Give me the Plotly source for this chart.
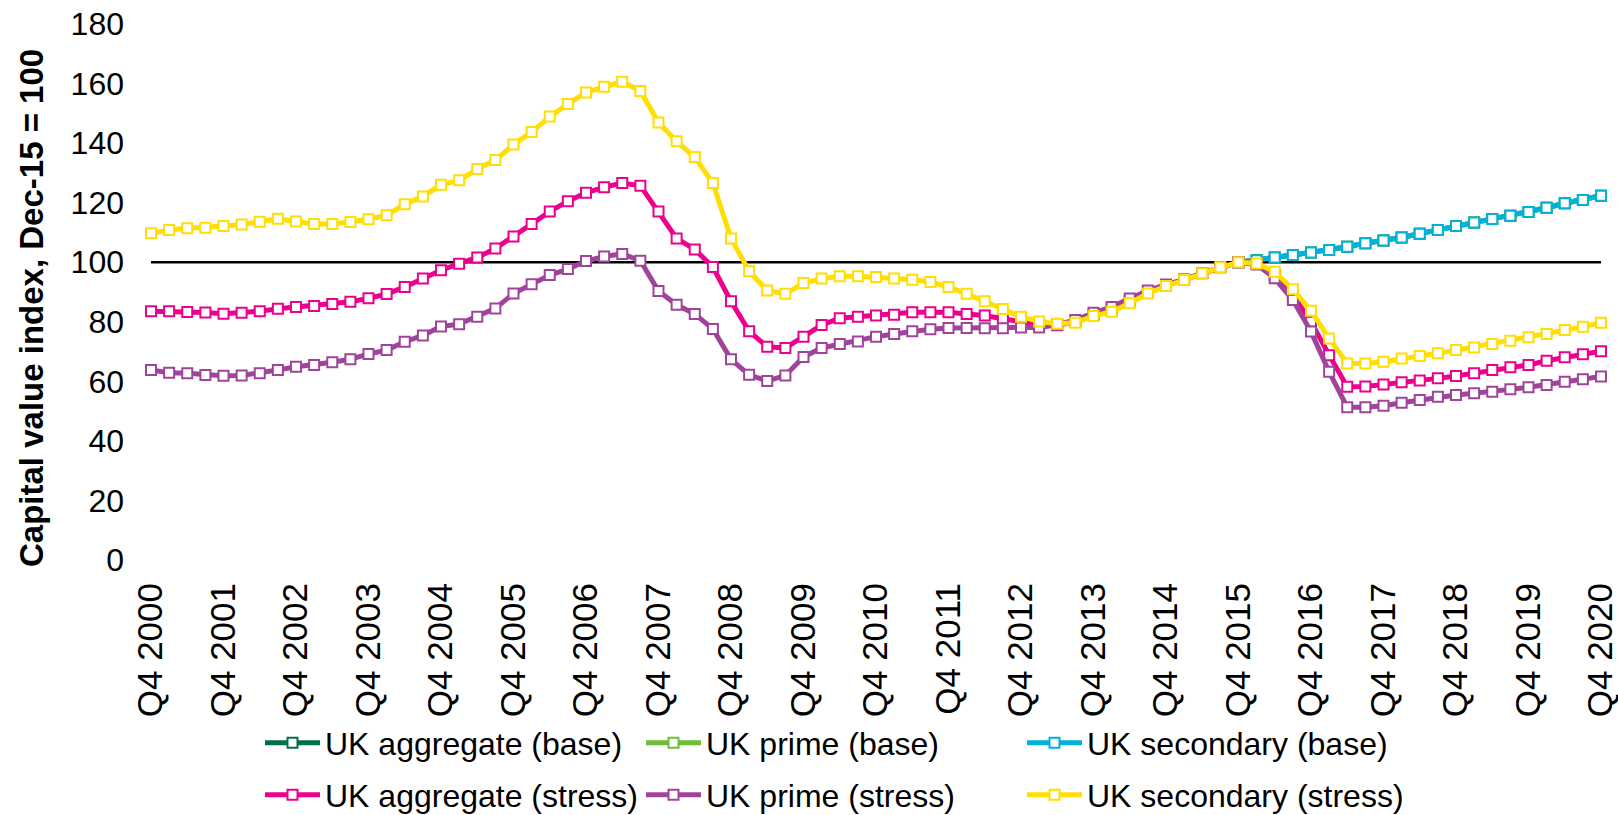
import plotly.graph_objects as go

# ---------------- data ----------------
quarters = []
for year in range(2000, 2021):
    for q in (1, 2, 3, 4):
        if year == 2000 and q < 4:
            continue
        quarters.append(f"Q{q} {year}")

tick_labels = [f"Q4 {y}" for y in range(2000, 2021)]

reference_level = 100

aggregate_stress = [
    83.5, 83.5, 83.3, 83.1, 82.7, 83.0, 83.5, 84.4, 85.0, 85.3,
    86.0, 86.7, 87.9, 89.3, 91.7, 94.5, 97.3, 99.5, 101.6, 104.6,
    108.6, 112.8, 117.0, 120.5, 123.3, 125.2, 126.6, 125.7, 117.0, 108.0,
    104.3, 98.4, 86.9, 76.8, 71.6, 71.2, 75.0, 78.9, 81.2, 81.7,
    82.1, 82.4, 83.2, 83.2, 83.2, 82.6, 82.1, 81.0, 79.8, 79.0,
    78.8, 80.0, 82.3, 84.0, 87.0, 90.0, 92.2, 94.1, 96.3, 98.3,
    100.0, 99.4, 95.6, 89.0, 80.0, 68.8, 58.2, 58.3, 58.9, 59.7,
    60.3, 61.0, 61.8, 62.7, 63.8, 64.7, 65.5, 66.9, 68.1, 69.1,
    70.1,
]

prime_stress = [
    63.8, 62.9, 62.7, 62.1, 61.9, 62.0, 62.7, 63.8, 64.9, 65.5,
    66.4, 67.4, 69.2, 70.5, 73.3, 75.4, 78.4, 79.2, 81.7, 84.5,
    89.5, 92.6, 95.7, 97.7, 100.4, 101.9, 102.8, 100.5, 90.3, 85.7,
    82.6, 77.6, 67.4, 62.2, 60.1, 62.0, 68.2, 71.2, 72.5, 73.4,
    75.0, 75.9, 76.8, 77.5, 77.9, 77.9, 77.8, 77.8, 78.1, 78.1,
    79.0, 80.6, 83.0, 85.0, 87.8, 90.5, 92.5, 94.2, 96.4, 98.4,
    100.0, 99.2, 94.6, 87.3, 76.7, 63.2, 51.3, 51.3, 51.8, 52.8,
    53.7, 54.8, 55.4, 56.0, 56.5, 57.3, 58.0, 58.8, 59.9, 60.7,
    61.6,
]

secondary_stress = [
    109.7, 110.8, 111.4, 111.6, 112.2, 112.7, 113.6, 114.6, 113.7, 112.8,
    112.8, 113.5, 114.4, 115.8, 119.5, 122.1, 126.0, 127.5, 131.3, 134.3,
    139.5, 143.7, 148.9, 153.1, 157.0, 158.9, 160.6, 157.5, 146.9, 140.6,
    135.3, 126.6, 108.0, 97.0, 90.5, 89.4, 93.0, 94.5, 95.3, 95.3,
    95.0, 94.5, 94.1, 93.4, 91.7, 89.4, 86.9, 84.3, 81.7, 80.1,
    79.3, 79.7, 81.9, 83.4, 86.2, 89.5, 92.0, 94.0, 96.3, 98.3,
    100.0, 99.6, 96.8, 90.9, 83.7, 74.4, 66.0, 66.0, 66.6, 67.7,
    68.5, 69.4, 70.5, 71.4, 72.5, 73.6, 74.8, 75.9, 77.2, 78.3,
    79.7,
]

# base projections start at Q4 2015
base_quarters = quarters[60:]
aggregate_base = [100.0, 100.7, 101.6, 102.4, 103.3, 104.1, 105.2, 106.4, 107.3, 108.3,
                  109.6, 110.8, 112.2, 113.3, 114.5, 115.6, 116.9, 118.3, 119.8, 120.9, 122.3]
prime_base = [100.0, 100.7, 101.6, 102.4, 103.3, 104.1, 105.2, 106.4, 107.3, 108.3,
              109.6, 110.8, 112.2, 113.3, 114.5, 115.6, 116.9, 118.3, 119.8, 120.9, 122.3]
secondary_base = [100.0, 100.7, 101.6, 102.4, 103.3, 104.1, 105.2, 106.4, 107.3, 108.3,
                  109.6, 110.8, 112.2, 113.3, 114.5, 115.6, 116.9, 118.3, 119.8, 120.9, 122.3]

y_title = "Capital value index, Dec-15 = 100"

# ---------------- styling ----------------
FONT = "Liberation Sans, Arial, sans-serif"
C_AGG_BASE = "#00704A"
C_PRIME_BASE = "#6FBE3A"
C_SEC_BASE = "#00B2DA"
C_AGG_STRESS = "#EC008C"
C_PRIME_STRESS = "#A0449B"
C_SEC_STRESS = "#FFDE00"

fig = go.Figure()

# reference line at 100
fig.add_trace(go.Scatter(
    x=[quarters[0], quarters[-1]], y=[reference_level, reference_level],
    mode="lines", line=dict(color="black", width=2.5),
    showlegend=False, hoverinfo="skip",
))


def add_series(name, x, y, color, legend):
    fig.add_trace(go.Scatter(
        x=x, y=y, name=name, mode="lines+markers",
        line=dict(color=color, width=5),
        marker=dict(symbol="square", size=10, color="white",
                    line=dict(color=color, width=2)),
        cliponaxis=False, legend=legend,
    ))


add_series("UK aggregate (base)", base_quarters, aggregate_base, C_AGG_BASE, "legend")
add_series("UK prime (base)", base_quarters, prime_base, C_PRIME_BASE, "legend")
add_series("UK secondary (base)", base_quarters, secondary_base, C_SEC_BASE, "legend")
add_series("UK aggregate (stress)", quarters, aggregate_stress, C_AGG_STRESS, "legend2")
add_series("UK prime (stress)", quarters, prime_stress, C_PRIME_STRESS, "legend2")
add_series("UK secondary (stress)", quarters, secondary_stress, C_SEC_STRESS, "legend2")

PLOT_L, PLOT_R, PLOT_T, PLOT_B = 151, 1601, 24, 560
W, H = 1618, 815
ph = PLOT_B - PLOT_T
pw = PLOT_R - PLOT_L

leg_common = dict(
    orientation="h", xanchor="left", yanchor="middle",
    x=(260 - PLOT_L) / pw,
    font=dict(family=FONT, size=32, color="black"),
    entrywidth=311, entrywidthmode="pixels", itemwidth=55,
    bgcolor="rgba(0,0,0,0)", borderwidth=0, tracegroupgap=0,
    traceorder="normal",
)

fig.update_layout(
    width=W, height=H,
    margin=dict(l=PLOT_L, r=W - PLOT_R, t=PLOT_T, b=H - PLOT_B, autoexpand=False),
    paper_bgcolor="white", plot_bgcolor="white",
    font=dict(family=FONT, color="black"),
    showlegend=True,
    legend=dict(**leg_common, y=(PLOT_B - 743) / ph),
    legend2=dict(**leg_common, y=(PLOT_B - 795) / ph),
    xaxis=dict(
        type="category", categoryorder="array", categoryarray=quarters,
        range=[0, len(quarters) - 1],
        tickmode="array", tickvals=tick_labels, ticktext=tick_labels,
        tickangle=-90, tickfont=dict(family=FONT, size=35, color="black"),
        showgrid=False, zeroline=False, showline=False, ticks="",
        ticklabelstandoff=15,
    ),
    yaxis=dict(
        range=[0, 180], tick0=0, dtick=20,
        tickfont=dict(family=FONT, size=32, color="black"),
        showgrid=False, zeroline=False, showline=False, ticks="",
        ticklabelstandoff=26,
    ),
    annotations=[dict(
        text=y_title, textangle=-90,
        xref="paper", yref="paper",
        x=(31 - PLOT_L) / pw, y=(PLOT_B - 308) / ph,
        xanchor="center", yanchor="middle", showarrow=False,
        font=dict(family=FONT, size=33, color="black", weight="bold"),
    )],
)

fig.write_html("out.html", config={"displayModeBar": False},
               post_script="document.body.style.margin='0';")
